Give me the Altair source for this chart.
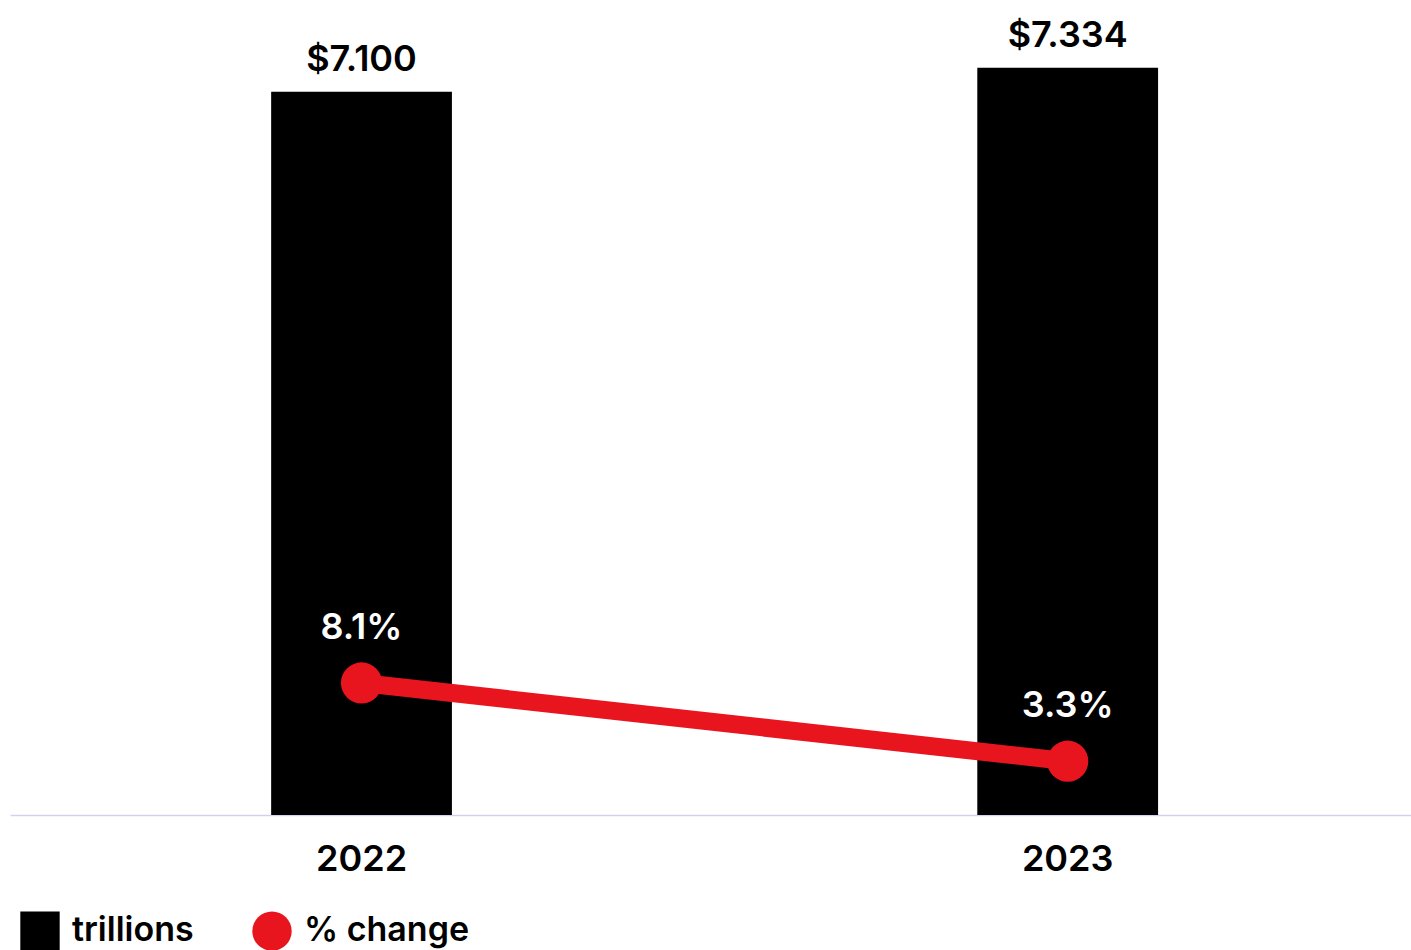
import altair as alt
import pandas as pd

years = ["2022", "2023"]
trillions = [7.100, 7.334]
pct_change = [8.1, 3.3]
bar_labels = ["$7.100", "$7.334"]
pct_labels = ["8.1%", "3.3%"]

df = pd.DataFrame({
    "year": years,
    "trillions": trillions,
    "pct": pct_change,
    "bar_label": bar_labels,
    "pct_label": pct_labels,
})

RED = "#e8141e"
FONT = "Inter"

xenc = alt.X(
    "year:N",
    scale=alt.Scale(paddingInner=0.744, paddingOuter=0.364, align=0.508),
    axis=alt.Axis(
        title=None, labelAngle=0, ticks=False, labelFontSize=36, labelFontWeight=600,
        labelColor="#000", labelFont=FONT, labelPadding=27,
        domainColor="#d2d2ee", domainWidth=1.5, grid=False,
    ),
)

color_scale = alt.Scale(domain=["trillions", "% change"], range=["#000000", RED])
shape_scale = alt.Scale(domain=["trillions", "% change"], range=["square", "circle"])
legend = alt.Legend(
    title=None, orient="none", legendX=10, legendY=911, direction="horizontal",
    symbolSize=1550, symbolStrokeWidth=0, labelFontSize=34, labelFontWeight=600,
    labelFont=FONT, labelColor="#000", columnPadding=58, labelOffset=12,
    padding=0, symbolOpacity=1, labelLimit=400,
)

base = alt.Chart(df)

yb = alt.Y("trillions:Q", scale=alt.Scale(domain=[0, 8]), axis=None)
bars = base.transform_calculate(series="'trillions'").mark_bar().encode(
    x=xenc, y=yb,
    color=alt.Color("series:N", scale=color_scale, legend=legend),
)
bar_text = base.mark_text(
    dy=-21, baseline="alphabetic", fontSize=36, fontWeight=600, font=FONT, color="#000"
).encode(x=xenc, y=yb, text="bar_label:N")

yp = alt.Y("pct:Q", scale=alt.Scale(domain=[0, 50]), axis=None)
line = base.mark_line(color=RED, strokeWidth=18).encode(x=xenc, y=yp)
points = base.transform_calculate(series="'% change'").mark_point(
    filled=True, size=1700, opacity=1
).encode(
    x=xenc, y=yp,
    color=alt.Color("series:N", scale=color_scale, legend=legend),
    shape=alt.Shape("series:N", scale=shape_scale, legend=legend),
)
pct_text = base.mark_text(
    dy=-44, baseline="alphabetic", fontSize=36, fontWeight=600, font=FONT, color="#fff"
).encode(x=xenc, y=yp, text="pct_label:N")

chart = alt.layer(
    alt.layer(bars, bar_text),
    alt.layer(line, points, pct_text),
).resolve_scale(y="independent").properties(
    width=1401, height=815, autosize="none",
    padding={"left": 10, "top": 0, "right": 0, "bottom": 135},
).configure_view(stroke=None)

chart.save("out.html", embed_options={"renderer": "svg", "actions": False})
